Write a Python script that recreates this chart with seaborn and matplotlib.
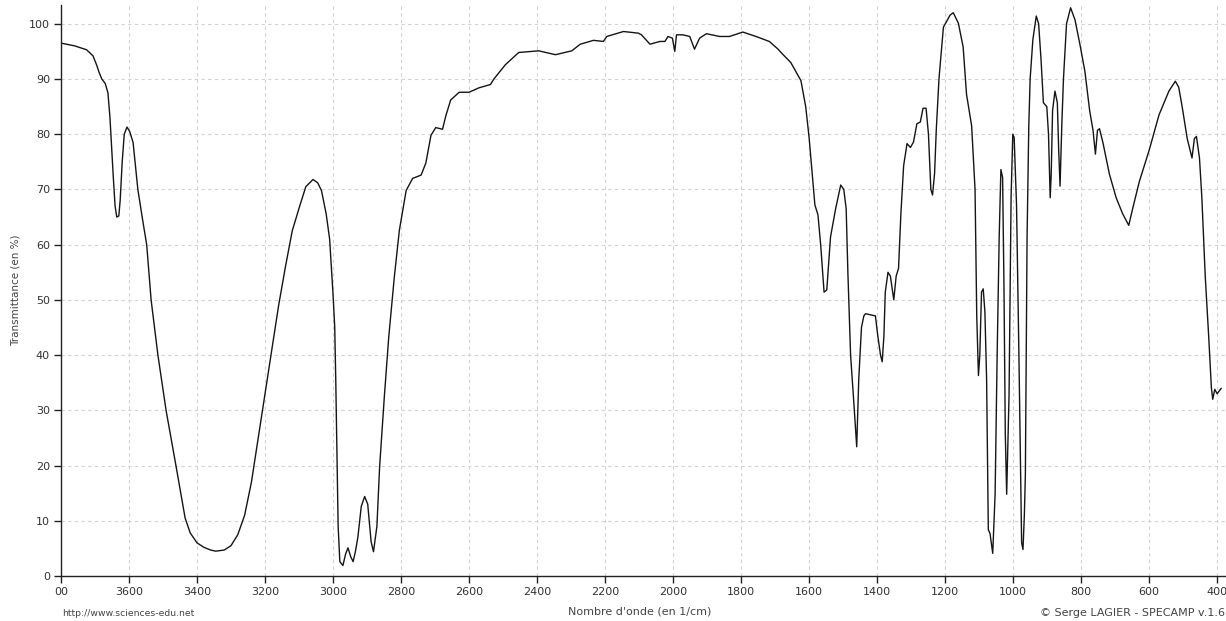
import matplotlib
matplotlib.use("Agg")
import matplotlib.pyplot as plt
import seaborn as sns
import pandas as pd

# Infrared spectrum: wavenumber (cm-1) and transmittance (%)
wavenumber = [
    3800, 3760, 3725, 3706, 3695, 3688, 3680, 3670, 3662, 3656, 3651, 3646,
    3641, 3636, 3630, 3626, 3620, 3614, 3606, 3598, 3588, 3574, 3560, 3548,
    3535, 3515, 3491, 3462, 3435, 3420, 3400, 3380, 3360, 3345, 3320, 3300,
    3280, 3260, 3240, 3220, 3200, 3180, 3160, 3140, 3120, 3098, 3080, 3059,
    3045, 3034, 3020, 3010, 3000, 2995, 2992, 2988, 2985, 2980, 2971, 2963,
    2956, 2948, 2941, 2934, 2927, 2917, 2907, 2898, 2888, 2881, 2871, 2863,
    2849, 2836, 2820, 2805, 2785, 2766, 2741, 2727, 2712, 2698, 2678, 2668,
    2654, 2629, 2600, 2571, 2537, 2527, 2493, 2454, 2395, 2346, 2298, 2273,
    2234, 2205, 2195, 2146, 2102, 2093, 2068, 2039, 2024, 2015, 2002, 1995,
    1990, 1971, 1951, 1937, 1922, 1902, 1863, 1834, 1795, 1756, 1717, 1693,
    1678, 1654, 1624, 1610, 1600, 1590, 1583, 1574, 1566, 1556, 1548, 1537,
    1522, 1507, 1498, 1491, 1486, 1478, 1470, 1460, 1454, 1446, 1439, 1434,
    1405, 1398, 1390, 1385, 1380, 1376, 1368, 1361, 1351, 1344, 1337, 1330,
    1322, 1312, 1302, 1293, 1283, 1273, 1265, 1256, 1249, 1242, 1237, 1231,
    1226, 1218, 1205, 1185, 1176, 1161, 1147, 1137, 1122, 1112, 1107, 1102,
    1098, 1093, 1088, 1083, 1078, 1073, 1068, 1060, 1053, 1047, 1041, 1036,
    1031, 1027, 1023, 1019, 1012, 1006, 1001, 997, 990, 983, 975, 971,
    967, 964, 959, 954, 950, 942, 932, 925, 918, 911, 901, 896,
    891, 888, 884, 877, 870, 866, 862, 857, 852, 843, 831, 818,
    804, 789, 775, 765, 758, 752, 746, 736, 717, 697, 678, 660,
    649, 629, 600, 571, 542, 523, 513, 503, 488, 474, 467, 461,
    452, 445, 435, 425, 417, 413, 407, 400, 388,
]
transmittance = [
    96.5, 96.0, 95.3, 94.2, 92.5, 91.2, 90.0, 89.2, 87.5, 83.0, 77.5, 72.0,
    67.0, 65.0, 65.2, 68.0, 75.0, 80.0, 81.3, 80.5, 78.5, 70.0, 64.5, 60.0,
    50.0, 40.0, 30.0, 20.0, 10.5, 7.8, 6.0, 5.2, 4.7, 4.5, 4.7, 5.5,
    7.5, 11.0, 17.0, 25.0, 33.0, 41.0, 49.0, 56.0, 62.5, 67.0, 70.5, 71.8,
    71.2, 69.8, 65.5, 61.0, 51.0, 45.0, 35.5, 20.0, 9.0, 2.6, 1.9, 4.0,
    5.1, 3.5, 2.6, 4.5, 7.0, 12.6, 14.4, 13.0, 6.2, 4.4, 9.0, 19.8,
    32.6, 43.4, 54.0, 62.6, 69.8, 72.0, 72.6, 74.8, 79.8, 81.2, 80.9, 83.4,
    86.2, 87.6, 87.6, 88.4, 89.0, 90.0, 92.6, 94.8, 95.1, 94.4, 95.1, 96.3,
    97.0, 96.8, 97.7, 98.6, 98.3, 98.0, 96.3, 96.8, 96.8, 97.7, 97.4, 95.0,
    98.0, 98.0, 97.7, 95.4, 97.4, 98.2, 97.7, 97.7, 98.5, 97.7, 96.8, 95.5,
    94.5, 93.0, 89.7, 85.0, 79.4, 72.2, 67.2, 65.4, 60.0, 51.4, 51.8, 61.4,
    66.5, 70.8, 70.0, 66.5, 55.0, 40.0, 32.8, 23.4, 35.6, 45.0, 47.1, 47.5,
    47.1, 43.5, 40.0, 38.8, 43.5, 51.4, 55.0, 54.3, 50.0, 54.3, 55.7, 65.7,
    74.3, 78.3, 77.6, 78.6, 81.9, 82.2, 84.7, 84.7, 80.0, 70.0, 69.0, 72.9,
    80.8, 90.1, 99.4, 101.6, 102.0, 100.1, 95.8, 87.2, 81.5, 70.0, 47.1, 36.3,
    40.0, 51.4, 52.0, 47.8, 35.6, 8.4, 7.7, 4.1, 14.8, 40.0, 61.4, 73.6,
    72.2, 52.8, 25.6, 14.8, 32.8, 68.6, 80.0, 79.4, 67.2, 40.0, 6.0, 4.8,
    11.0, 18.4, 61.3, 81.4, 90.0, 97.1, 101.4, 100.0, 93.6, 85.7, 85.0, 80.0,
    68.5, 72.8, 84.3, 87.8, 85.7, 77.1, 70.6, 81.4, 90.0, 100.0, 102.9, 100.7,
    96.4, 91.4, 84.3, 80.7, 76.4, 80.7, 81.0, 78.5, 72.8, 68.5, 65.6, 63.5,
    66.4, 71.4, 77.1, 83.5, 87.8, 89.6, 88.5, 85.0, 79.2, 75.7, 79.2, 79.6,
    75.7, 68.5, 54.2, 43.5, 34.1, 32.0, 33.8, 33.0, 34.0,
]

x_ticks = [3800, 3600, 3400, 3200, 3000, 2800, 2600, 2400, 2200, 2000,
           1800, 1600, 1400, 1200, 1000, 800, 600, 400]
x_tick_labels = ["00", "3600", "3400", "3200", "3000", "2800", "2600", "2400",
                 "2200", "2000", "1800", "1600", "1400", "1200", "1000", "800",
                 "600", "400"]
y_ticks = [0, 10, 20, 30, 40, 50, 60, 70, 80, 90, 100]

spectrum = pd.DataFrame({"wavenumber": wavenumber, "transmittance": transmittance})

sns.set_theme(style="white")
plt.rcParams["font.family"] = ["DejaVu Sans"]

fig = plt.figure(figsize=(12.26, 6.21), dpi=100)
ax = fig.add_axes([61 / 1226, 1 - 576 / 621, 1 - 61 / 1226, (576 - 5) / 621])

sns.lineplot(data=spectrum, x="wavenumber", y="transmittance", sort=False,
             color="#151515", linewidth=1.0, ax=ax)

ax.set_xlim(3800, 374)
ax.set_ylim(0, 103.4)
ax.set_xticks(x_ticks)
ax.set_xticklabels(x_tick_labels)
ax.set_yticks(y_ticks)

ax.grid(True, color="#d2d2d2", linestyle=(0, (3, 3)), linewidth=0.8)
for side in ("top", "right"):
    ax.spines[side].set_visible(False)
for side in ("left", "bottom"):
    ax.spines[side].set_color("#222222")
    ax.spines[side].set_linewidth(1.0)

ax.tick_params(axis="both", which="major", direction="out", length=5,
               width=1.0, color="#222222", labelsize=8, labelcolor="#333333",
               pad=3, bottom=True, left=True)
ax.set_xlabel("")
ax.set_ylabel("Transmittance (en %)", fontsize=7.5, color="#444444", labelpad=6)

fig.text(640 / 1226, 1 - 611 / 621, "Nombre d'onde (en 1/cm)", ha="center",
         va="center", fontsize=8, color="#444444")
fig.text(62 / 1226, 1 - 614 / 621, "http://www.sciences-edu.net", ha="left",
         va="center", fontsize=6.7, color="#444444")
fig.text(1225 / 1226, 1 - 613 / 621, "© Serge LAGIER - SPECAMP v.1.6",
         ha="right", va="center", fontsize=8, color="#444444")

fig.savefig("out.png", dpi=100, facecolor="white")
